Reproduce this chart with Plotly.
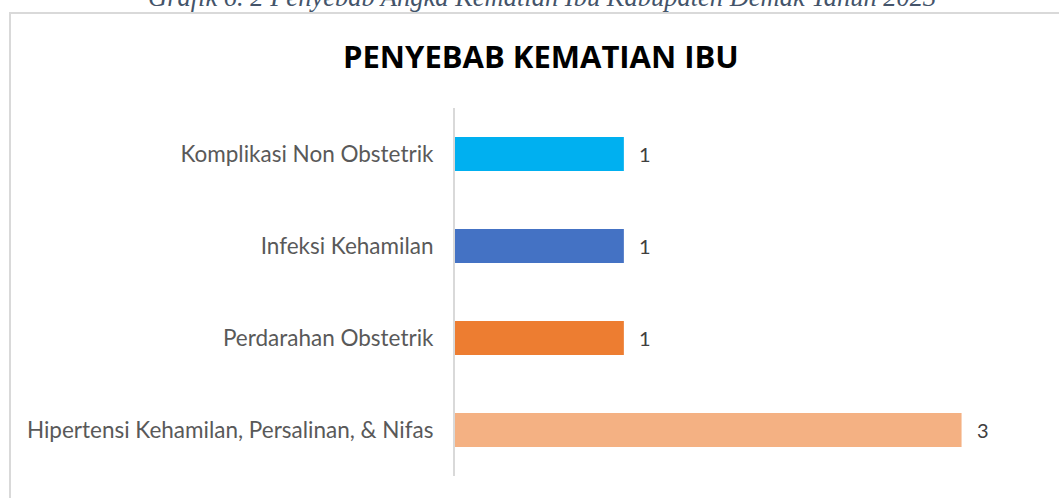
import plotly.graph_objects as go

categories = ["Hipertensi Kehamilan, Persalinan, & Nifas", "Perdarahan Obstetrik",
              "Infeksi Kehamilan", "Komplikasi Non Obstetrik"]
values = [3, 1, 1, 1]
colors = ["#F4B183", "#ED7D31", "#4472C4", "#00B0F0"]
chart_title = "PENYEBAB KEMATIAN IBU"
caption = "Grafik 6. 2 Penyebab Angka Kematian Ibu Kabupaten Demak Tahun 2023"

W, H = 1059, 498
L, R, T, B = 455, 13, 108, 22
pw, ph = W - L - R, H - T - B

def px(x):
    return (x - L) / pw

def py(y):
    return (H - B - y) / ph

fig = go.Figure(go.Bar(
    x=values, y=categories, orientation="h",
    marker=dict(color=colors, line=dict(width=0)),
    width=0.37,
    hoverinfo="x+y",
))

label_annotations = [
    dict(x=v, y=c, xref="x", yref="y", text=str(v), showarrow=False,
         xanchor="left", yanchor="middle", xshift=13,
         font=dict(family="Lato, sans-serif", size=20, color="#404040"))
    for c, v in zip(categories, values)
]

fig.update_layout(
    width=W, height=H,
    margin=dict(l=L, r=R, t=T, b=B),
    paper_bgcolor="white", plot_bgcolor="white",
    showlegend=False,
    xaxis=dict(range=[0, 3.5], visible=False, showgrid=False, zeroline=False),
    yaxis=dict(showline=True, linecolor="#D9D9D9", linewidth=2, ticks="",
               ticklabelstandoff=15,
               tickfont=dict(family="Lato, sans-serif", size=22.5, color="#595959"),
               showgrid=False),
    shapes=[dict(type="rect", xref="paper", yref="paper",
                 x0=px(10), x1=px(1075), y0=py(13), y1=py(520),
                 line=dict(color="#D9D9D9", width=2), fillcolor="rgba(0,0,0,0)", layer="below")],
    annotations=[
        dict(text="<b>" + chart_title + "</b>", xref="paper", yref="paper",
             x=px(541), y=py(56), xanchor="center", yanchor="middle", showarrow=False,
             font=dict(family="Open Sans, sans-serif", size=31, color="#000000")),
        dict(text="<i>" + caption + "</i>", xref="paper", yref="paper",
             x=px(542), y=py(-3), xanchor="center", yanchor="middle", showarrow=False,
             font=dict(family="Liberation Serif, serif", size=26.5, color="#44546A")),
    ] + label_annotations,
)

fig.write_html("out.html", config={"displayModeBar": False},
               post_script="document.body.style.margin='0';document.body.style.overflow='hidden';")
